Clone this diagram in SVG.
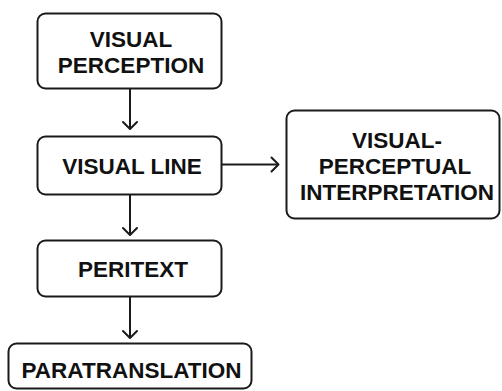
<svg xmlns="http://www.w3.org/2000/svg" width="502" height="391" viewBox="0 0 502 391">
  <style>
    .box { fill: #ffffff; stroke: #1a1a1a; stroke-width: 2; }
    .lbl { font-family: "Liberation Sans", Arial, sans-serif; font-weight: bold; font-size: 22.5px; fill: #111111; text-anchor: middle; }
    .edge { fill: none; stroke: #1a1a1a; stroke-width: 2; }
    .head { fill: none; stroke: #1a1a1a; stroke-width: 2; stroke-linecap: round; stroke-linejoin: round; }
  </style>
  <rect width="502" height="391" fill="#ffffff"/>

  <g id="connectors">
    <!-- perception -> visual line -->
    <line class="edge" x1="130" y1="89" x2="130" y2="128"/>
    <polyline class="head" points="123,122 130,129 137,122"/>
    <!-- visual line -> interpretation -->
    <line class="edge" x1="222" y1="164.5" x2="278" y2="164.5"/>
    <polyline class="head" points="271.5,157.5 278.5,164.5 271.5,171.5"/>
    <!-- visual line -> peritext -->
    <line class="edge" x1="130" y1="195" x2="130" y2="234"/>
    <polyline class="head" points="123,228 130,235 137,228"/>
    <!-- peritext -> paratranslation -->
    <line class="edge" x1="130" y1="297" x2="130" y2="337"/>
    <polyline class="head" points="123,331 130,338 137,331"/>
  </g>

  <g id="node-visual-perception">
    <rect class="box" x="37.5" y="13.5" width="184" height="75" rx="8"/>
    <text class="lbl" x="131" y="46.5">VISUAL</text>
    <text class="lbl" x="131" y="72.5">PERCEPTION</text>
  </g>

  <g id="node-visual-line">
    <rect class="box" x="37.5" y="136.5" width="184" height="58" rx="8"/>
    <text class="lbl" x="132" y="174">VISUAL LINE</text>
  </g>

  <g id="node-interpretation">
    <rect class="box" x="286.5" y="110.5" width="213" height="108" rx="8"/>
    <text class="lbl" x="397" y="148">VISUAL-</text>
    <text class="lbl" x="395" y="174">PERCEPTUAL</text>
    <text class="lbl" x="397" y="200">INTERPRETATION</text>
  </g>

  <g id="node-peritext">
    <rect class="box" x="37.5" y="240.5" width="184" height="56" rx="8"/>
    <text class="lbl" x="133" y="277">PERITEXT</text>
  </g>

  <g id="node-paratranslation">
    <rect class="box" x="8.5" y="343.5" width="243" height="45" rx="8"/>
    <text class="lbl" x="131.5" y="377.5">PARATRANSLATION</text>
  </g>
</svg>
